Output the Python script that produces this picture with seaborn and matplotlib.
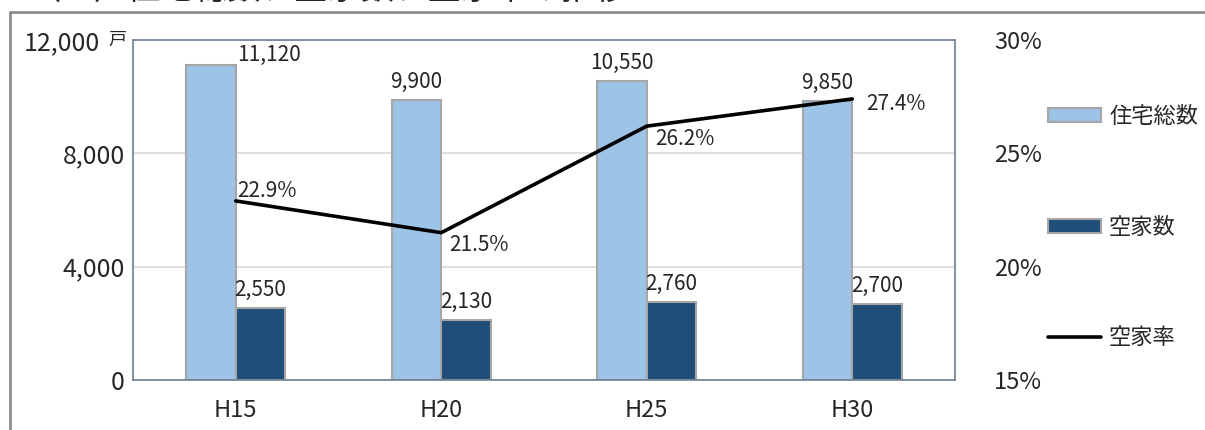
import numpy as np
import pandas as pd
import matplotlib
matplotlib.use("Agg")
import matplotlib.pyplot as plt
import matplotlib.transforms as mtrans
from matplotlib.lines import Line2D
from matplotlib.patches import Patch
from matplotlib.ticker import FuncFormatter
import seaborn as sns

# ── data ──────────────────────────────────────────────────────────────────────
years        = ["H15", "H20", "H25", "H30"]
total_houses = [11120, 9900, 10550, 9850]      # 住宅総数
vacant       = [2550, 2130, 2760, 2700]        # 空家数
vacancy_rate = [22.9, 21.5, 26.2, 27.4]        # 空家率 (%)
series_names = ["住宅総数", "空家数", "空家率"]
title_text   = "（３）住宅総数、空家数、空家率の推移"

LIGHT, DARK, EDGE = "#9dc3e6", "#1f4e79", "#a6a6a6"

df = pd.DataFrame({
    "year":  years * 2,
    "count": total_houses + vacant,
    "kind":  [series_names[0]] * len(years) + [series_names[1]] * len(years),
})

sns.set_theme(style="white")
plt.rcParams["font.family"] = ["Noto Sans CJK JP", "DejaVu Sans"]

fig = plt.figure(figsize=(12.05, 4.3), dpi=100)
ax = fig.add_axes([133 / 1205, 50 / 430, 822 / 1205, 340 / 430])

sns.barplot(data=df, x="year", y="count", hue="kind",
            palette=[LIGHT, DARK], width=0.48, edgecolor=EDGE,
            linewidth=1.5, saturation=1, legend=False, ax=ax)

ax.set_ylim(0, 12000)
ax.set_yticks([0, 4000, 8000, 12000])
ax.set_yticklabels(["0", "4,000", "8,000", "12,000"])
ax.set_xlim(-0.5, len(years) - 0.5)
ax.set_xlabel(""); ax.set_ylabel("")
ax.tick_params(axis="y", length=0, pad=6, labelsize=18)
ax.tick_params(axis="x", length=0, pad=14, labelsize=17)
ax.yaxis.grid(True, color="#d9d9d9", linewidth=1.2)
ax.set_axisbelow(True)
for sp in ax.spines.values():
    sp.set_color("#6d7f94")
    sp.set_linewidth(1.2)

# unit mark next to the top tick
ax.text(-0.008, 1.0, "戸", transform=ax.transAxes, ha="right", va="center",
        fontsize=13)
top_lab = ax.get_yticklabels()[-1]
top_lab.set_transform(top_lab.get_transform()
                      + mtrans.ScaledTranslation(-25 / 100, 0, fig.dpi_scale_trans))

# bar value labels
bw = 0.24
for i, v in enumerate(total_houses):
    if i == 0:
        ax.annotate(f"{v:,}", (i - bw / 2, v), xytext=(42, 7),
                    textcoords="offset points", ha="center", va="center",
                    fontsize=15)
    else:
        ax.annotate(f"{v:,}", (i - bw / 2, v), xytext=(0, 5),
                    textcoords="offset points", ha="center", va="bottom",
                    fontsize=15)
for i, v in enumerate(vacant):
    ax.annotate(f"{v:,}", (i + bw / 2, v), xytext=(0, 5),
                textcoords="offset points", ha="center", va="bottom",
                fontsize=15)

# vacancy-rate line on the secondary axis
ax2 = ax.twinx()
sns.lineplot(x=np.arange(len(years)), y=vacancy_rate, color="black",
             linewidth=2.6, ax=ax2)
ax2.set_ylim(15, 30)
ax2.set_yticks([15, 20, 25, 30])
ax2.yaxis.set_major_formatter(FuncFormatter(lambda v, _: f"{v:.0f}%"))
ax2.tick_params(axis="y", length=0, pad=28, labelsize=17)
ax2.grid(False)
for sp in ax2.spines.values():
    sp.set_visible(False)

rate_offsets = [(1, 7), (6, -9), (6, -9), (10, -4)]
for i, (v, off) in enumerate(zip(vacancy_rate, rate_offsets)):
    ax2.annotate(f"{v:.1f}%", (i, v), xytext=off, textcoords="offset points",
                 ha="left", va="center", fontsize=15)

# legend on the right
handles = [Patch(facecolor=LIGHT, edgecolor=EDGE, linewidth=1.5),
           Patch(facecolor=DARK, edgecolor=EDGE, linewidth=1.5),
           Line2D([], [], color="black", linewidth=2.6)]
fig.legend(handles, series_names, loc="center left",
           bbox_to_anchor=(1028 / 1205, 1 - 227 / 430), frameon=False,
           fontsize=16, labelspacing=3.95, handlelength=2.4,
           handleheight=0.6, handletextpad=0.35)

# outer frame and clipped heading
fig.add_artist(Line2D([10 / 1205, 10 / 1205], [0, 1 - 12 / 430],
                      color="#8c8c8c", linewidth=2, transform=fig.transFigure))
fig.add_artist(Line2D([10 / 1205, 1], [1 - 12 / 430, 1 - 12 / 430],
                      color="#8c8c8c", linewidth=2, transform=fig.transFigure))
fig.text(28 / 1205, 1 + 1 / 430, title_text, ha="left", va="baseline",
         fontsize=24)

fig.savefig("out.png", dpi=100)
